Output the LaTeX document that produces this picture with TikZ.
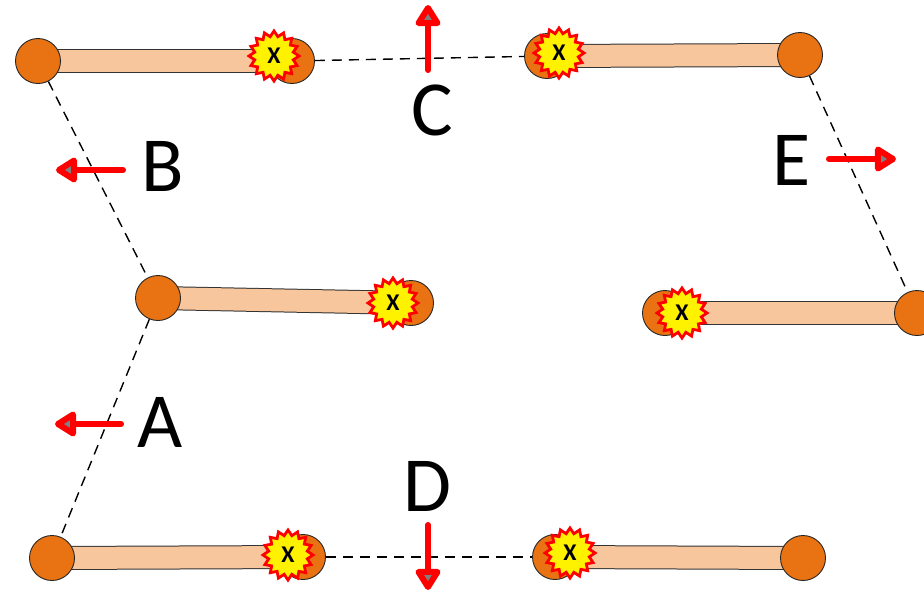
\documentclass[tikz,border=0pt]{standalone}
\usepackage{fontspec}
\setmainfont{Carlito}
\usetikzlibrary{shapes.geometric,arrows.meta}
\definecolor{jointc}{RGB}{233,115,18}
\definecolor{barc}{RGB}{248,198,157}
\definecolor{tipgray}{RGB}{128,128,128}
\begin{document}
\begin{tikzpicture}[x=1pt,y=-1pt,
  joint/.style={circle,draw=black!85,line width=0.9pt,fill=jointc,minimum size=45pt,inner sep=0pt},
  burst/.style={star,star points=16,star point ratio=1.27,draw=red,line width=2.8pt,fill=yellow,
    minimum size=50pt,inner sep=0pt,font=\bfseries\fontsize{24}{24}\selectfont},
  lettr/.style={inner sep=0pt,font=\fontsize{78}{80}\selectfont},
  link/.style={dash pattern=on 10pt off 7pt,line width=1.4pt},
  barout/.style={line width=24pt,black!80},
  barin/.style={line width=22pt,barc},
  move/.style={red,line width=6pt,line cap=round,-{Triangle[round,length=24pt,width=28pt,fill=tipgray]}}
]
\useasboundingbox (0,0) rectangle (924,592);
% centres
\coordinate (p1) at (38,61);   \coordinate (p2) at (292,61);
\coordinate (p3) at (547,56);  \coordinate (p4) at (800,55);
\coordinate (p5) at (158,298); \coordinate (p6) at (411,303);
\coordinate (p7) at (665,313); \coordinate (p8) at (917,313);
\coordinate (p9) at (52,558);  \coordinate (p10) at (303,557);
\coordinate (p11) at (555,557);\coordinate (p12) at (803,558);
% bars
\foreach \a/\b in {p1/p2,p3/p4,p5/p6,p7/p8,p9/p10,p11/p12}{
  \draw[barout] (\a) -- (\b);
  \draw[barin] (\a) -- (\b);
}
% joints
\foreach \p in {p1,p2,p3,p4,p5,p6,p7,p8,p9,p10,p11,p12}{
  \node[joint] (n\p) at (\p) {};
}
% dashed links
\draw[link] (np2) -- (np3);
\draw[link] (np1) -- (np5);
\draw[link] (np5) -- (np9);
\draw[link] (np10) -- (np11);
\draw[link] (np4) -- (np8);
% bursts
\node[burst] (s1) at (274,56) {X};
\node[burst] (s2) at (559,53) {X};
\node[burst] (s3) at (393,303) {X};
\node[burst] (s4) at (682,313) {X};
\node[burst] (s5) at (288,555) {X};
\node[burst] (s6) at (570,553) {X};
% labels
\node[lettr] (lC) at (432,110) {C};
\node[lettr] (lB) at (163,166) {B};
\node[lettr] (lA) at (160,422) {A};
\node[lettr] (lD) at (427,486) {D};
\node[lettr] (lE) at (792,160) {E};
% arrows
\coordinate (c0) at (428,70);  \coordinate (c1) at (428,5);
\coordinate (b0) at (123,170); \coordinate (b1) at (56,170);
\coordinate (a0) at (121,424); \coordinate (a1) at (55,424);
\coordinate (d0) at (428,525); \coordinate (d1) at (428,590);
\coordinate (e0) at (829,159); \coordinate (e1) at (896,159);
\draw[move] (c0) -- (c1);
\draw[move] (b0) -- (b1);
\draw[move] (a0) -- (a1);
\draw[move] (d0) -- (d1);
\draw[move] (e0) -- (e1);
\end{tikzpicture}
\end{document}
